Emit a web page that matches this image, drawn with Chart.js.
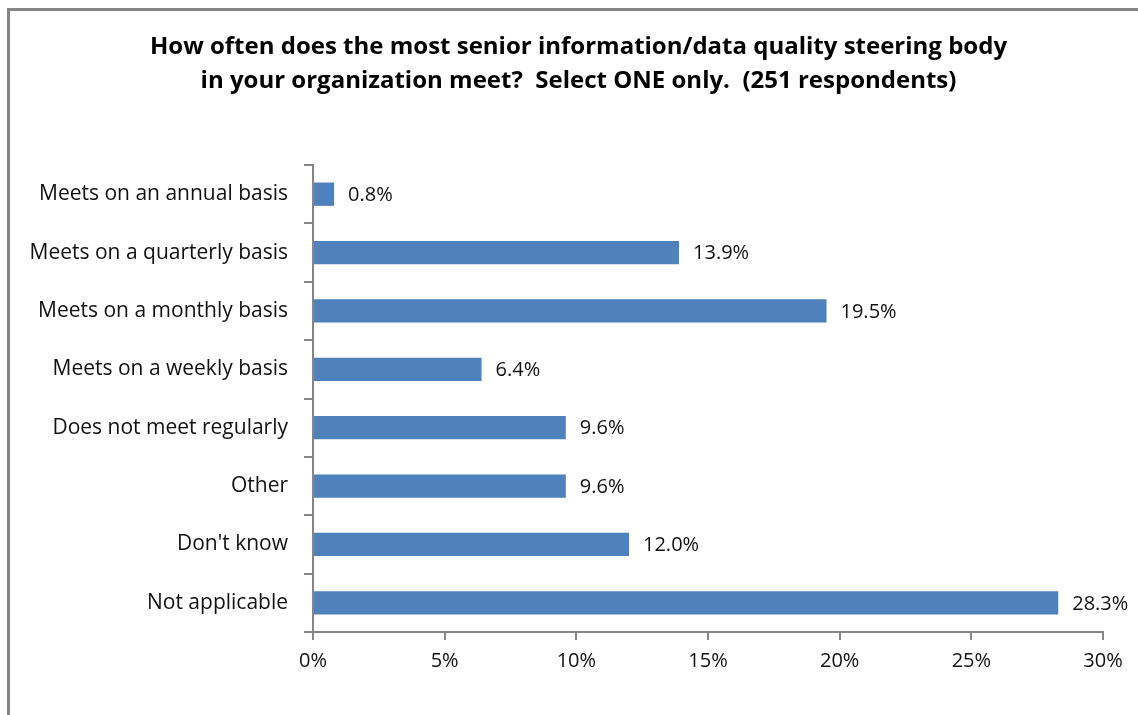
<!DOCTYPE html>
<html>
<head>
<meta charset="utf-8">
<script src="https://cdn.jsdelivr.net/npm/chart.js@4/dist/chart.umd.min.js"></script>
<style>
  html, body { margin: 0; padding: 0; background: #fff; overflow: hidden; }
  #frame {
    position: absolute; left: 7px; top: 8px; width: 1200px; height: 800px;
    border-left: 3px solid #868686; border-top: 3px solid #868686;
  }
  #wrap { position: absolute; left: 0; top: 0; width: 1138px; height: 715px; }
</style>
</head>
<body>
<div id="frame"></div>
<div id="wrap"><canvas id="c"></canvas></div>
<script>
// 回答の選択肢と割合（%）
const categories = [
  'Meets on an annual basis',
  'Meets on a quarterly basis',
  'Meets on a monthly basis',
  'Meets on a weekly basis',
  'Does not meet regularly',
  'Other',
  "Don't know",
  'Not applicable'
];
const percentages = [0.8, 13.9, 19.5, 6.4, 9.6, 9.6, 12.0, 28.3];
const xTicks = [0, 5, 10, 15, 20, 25, 30];
const titleLines = [
  'How often does the most senior information/data quality steering body',
  'in your organization meet?  Select ONE only.  (251 respondents)'
];

const FONT = '"Open Sans", Lato, sans-serif';
const AXIS_GRAY = '#868686';

// バーの右側に値を表示するプラグイン
const valueLabels = {
  id: 'valueLabels',
  afterDatasetsDraw(chart) {
    const ctx = chart.ctx;
    const meta = chart.getDatasetMeta(0);
    ctx.save();
    ctx.font = '20px ' + FONT;
    ctx.fillStyle = '#111';
    ctx.textAlign = 'left';
    ctx.textBaseline = 'middle';
    meta.data.forEach((bar, i) => {
      ctx.fillText(percentages[i].toFixed(1) + '%', bar.x + 14, bar.y + 1);
    });
    ctx.restore();
  }
};

// 元の図に合わせてタイトルの中心を少し右へずらす
const titleShift = {
  id: 'titleShift',
  afterLayout(chart) {
    if (chart.titleBlock) chart.titleBlock.left += 54;
  }
};

new Chart(document.getElementById('c'), {
  type: 'bar',
  data: {
    labels: categories,
    datasets: [{
      data: percentages,
      backgroundColor: '#4F81BD',
      borderWidth: 0,
      barPercentage: 0.4,
      categoryPercentage: 1.0
    }]
  },
  options: {
    indexAxis: 'y',
    responsive: true,
    maintainAspectRatio: false,
    animation: false,
    layout: { padding: { left: 0, right: 35, top: 0, bottom: 0 } },
    plugins: {
      legend: { display: false },
      tooltip: { enabled: false },
      title: {
        display: true,
        text: titleLines,
        color: '#000',
        font: { family: FONT, size: 24, weight: 'bold', lineHeight: '34px' },
        padding: { top: 30, bottom: 67 }
      }
    },
    scales: {
      x: {
        min: 0,
        max: 30,
        afterBuildTicks: (scale) => { scale.ticks = xTicks.map(v => ({ value: v })); },
        afterFit: (scale) => { scale.height = 83; },
        border: { display: true, color: AXIS_GRAY, width: 2 },
        grid: { drawOnChartArea: false, drawTicks: true, tickLength: 8, color: AXIS_GRAY, lineWidth: 2 },
        ticks: {
          autoSkip: false,
          maxRotation: 0,
          padding: 9,
          color: '#111',
          font: { family: FONT, size: 20 },
          callback: (v) => v + '%'
        }
      },
      y: {
        afterFit: (scale) => { scale.width = 313; },
        border: { display: true, color: AXIS_GRAY, width: 2 },
        grid: { drawOnChartArea: false, drawTicks: true, tickLength: 9, color: AXIS_GRAY, lineWidth: 2, offset: true },
        ticks: {
          padding: 16,
          color: '#111',
          font: { family: FONT, size: 21 }
        }
      }
    }
  },
  plugins: [valueLabels, titleShift]
});
</script>
</body>
</html>
